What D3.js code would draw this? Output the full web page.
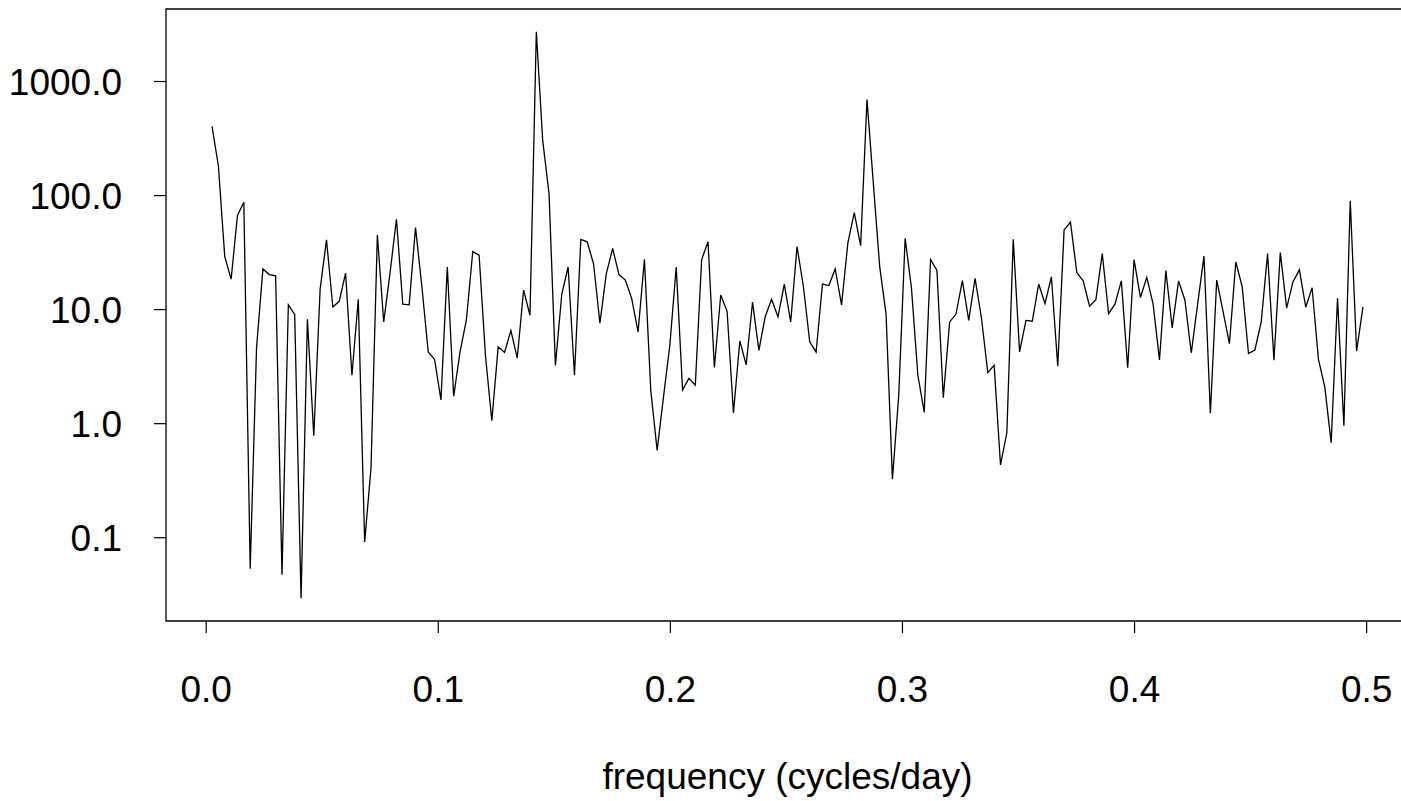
<!DOCTYPE html>
<html>
<head>
<meta charset="utf-8">
<script src="https://cdn.jsdelivr.net/npm/d3@7"></script>
<style>
  html, body { margin: 0; padding: 0; background: #fff; overflow: hidden; }
  svg { display: block; }
  svg text { font-family: "Liberation Sans", Arial, sans-serif; fill: #000; }
</style>
</head>
<body>
<div id="chart"></div>
<script>
// periodogram of one year of daily data, frequencies k/365 for k = 1..182
const nDays = 365;

// spectrum values (log scale)
const spectrum = [
  400, 180, 28.8, 18.3, 66.4, 86.5, 0.0528, 4.60, 22.5, 20.1,
  19.6, 0.0469, 10.9, 8.98, 0.0291, 8.16, 0.776, 15.0, 40.5, 10.45,
  11.7, 20.7, 2.63, 12.2, 0.0909, 0.404, 44.6, 7.72, 20.9, 61.4,
  11.05, 10.9, 51.9, 15.8, 4.21, 3.62, 1.60, 23.4, 1.72, 4.21,
  8.03, 31.9, 29.7, 3.92, 1.05, 4.67, 4.18, 6.48, 3.71, 14.7,
  8.84, 2710, 302, 103, 3.21, 13.5, 23.4, 2.63, 40.9, 38.9,
  24.9, 7.54, 20.4, 34.0, 20.1, 18.0, 12.35, 6.32, 27.4, 1.94,
  0.578, 1.70, 4.86, 23.4, 1.96, 2.47, 2.15, 27.2, 38.9, 3.08,
  13.3, 9.57, 1.23, 5.26, 3.24, 11.5, 4.35, 8.63, 12.2, 8.56,
  16.6, 7.72, 35.4, 15.8, 5.14, 4.21, 16.6, 16.1, 22.5, 10.9,
  38.3, 70.3, 36.0, 687, 126, 23.6, 9.05, 0.323, 1.77, 41.8,
  15.2, 2.63, 1.25, 27.2, 21.8, 1.67, 7.72, 9.05, 17.8, 7.97,
  18.6, 8.36, 2.78, 3.21, 0.430, 0.828, 40.9, 4.21, 7.97, 7.84,
  16.6, 11.2, 19.2, 3.16, 49.5, 58.0, 20.9, 17.7, 10.6, 12.1,
  30.7, 9.12, 11.05, 17.7, 3.06, 27.2, 12.65, 19.0, 11.05, 3.59,
  21.8, 6.85, 17.7, 11.96, 4.14, 11.05, 29.2, 1.22, 18.0, 9.49,
  4.98, 25.9, 15.8, 4.08, 4.38, 7.72, 30.7, 3.56, 31.4, 10.2,
  17.4, 22.1, 10.4, 15.4, 3.62, 2.07, 0.672, 12.45, 0.948, 89.2,
  4.28, 10.45
];

const xTicks = [0, 0.1, 0.2, 0.3, 0.4, 0.5];
const xTickLabels = ["0.0", "0.1", "0.2", "0.3", "0.4", "0.5"];
const yTicks = [0.1, 1, 10, 100, 1000];
const yTickLabels = ["0.1", "1.0", "10.0", "100.0", "1000.0"];
const xTitle = "frequency (cycles/day)";

const width = 1401, height = 801;
const margin = {top: 9, right: -8, bottom: 180, left: 166};
const fontSize = 37;

const data = spectrum.map((v, i) => ({freq: (i + 1) / nDays, spec: v}));

// R style limits: data range widened by 4% on each side
function padRange(lo, hi) {
    const d = (hi - lo) * 0.04;
    return [lo - d, hi + d];
}
const xDom = padRange(d3.min(data, d => d.freq), d3.max(data, d => d.freq));
const logDom = padRange(Math.log10(d3.min(spectrum)), Math.log10(d3.max(spectrum)));

const x = d3.scaleLinear()
    .domain(xDom)
    .range([margin.left, width - margin.right]);

const y = d3.scaleLog()
    .domain([Math.pow(10, logDom[0]), Math.pow(10, logDom[1])])
    .range([height - margin.bottom, margin.top]);

const svg = d3.select("#chart")
    .append("svg")
    .attr("width", width)
    .attr("height", height);

// spectrum line
svg.append("path")
    .datum(data)
    .attr("fill", "none")
    .attr("stroke", "#000")
    .attr("stroke-width", 1.3)
    .attr("stroke-linejoin", "miter")
    .attr("d", d3.line().x(d => x(d.freq)).y(d => y(d.spec)));

// x axis
const xAxis = svg.append("g")
    .attr("transform", `translate(0,${height - margin.bottom})`)
    .call(d3.axisBottom(x)
        .tickValues(xTicks)
        .tickFormat((d, i) => xTickLabels[i])
        .tickSize(12)
        .tickPadding(43));
xAxis.select(".domain").remove();

// y axis
const yAxis = svg.append("g")
    .attr("transform", `translate(${margin.left},0)`)
    .call(d3.axisLeft(y)
        .tickValues(yTicks)
        .tickFormat((d, i) => yTickLabels[i])
        .tickSize(12)
        .tickPadding(32));
yAxis.select(".domain").remove();
yAxis.selectAll("text").attr("dy", "0.36em");

svg.selectAll(".tick line").attr("stroke", "#000").attr("stroke-width", 1.2);
svg.selectAll(".tick text")
    .style("font-family", "'Liberation Sans', Arial, sans-serif")
    .style("font-size", fontSize + "px")
    .attr("fill", "#000");

// box around the plot region; its right side lies past the canvas edge
const [bx0, bx1] = x.range();
const [by1, by0] = y.range();
svg.append("path")
    .attr("d", `M${bx1},${by0}H${bx0}V${by1}H${bx1}`)
    .attr("fill", "none")
    .attr("stroke", "#000")
    .attr("stroke-width", 1.3);

// axis title
svg.append("text")
    .attr("x", (bx0 + bx1) / 2)
    .attr("y", 789)
    .attr("text-anchor", "middle")
    .style("font-size", fontSize + "px")
    .text(xTitle);
</script>
</body>
</html>
